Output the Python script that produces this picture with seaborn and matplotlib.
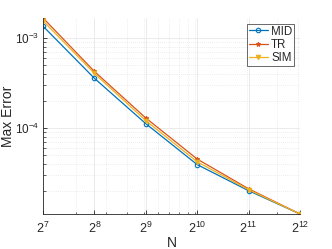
import matplotlib
matplotlib.use("Agg")
import matplotlib.pyplot as plt
from matplotlib.ticker import FixedLocator, LogLocator, NullFormatter
import seaborn as sns

# data
N = [128, 256, 512, 1024, 2048, 4096]
mid_err = [1.36e-3, 3.57e-4, 1.116e-4, 3.9e-5, 2.0e-5, 1.1e-5]
tr_err = [1.68e-3, 4.26e-4, 1.29e-4, 4.5e-5, 2.1e-5, 1.1e-5]
sim_err = [1.56e-3, 4.05e-4, 1.205e-4, 4.19e-5, 2.05e-5, 1.1e-5]
x_exps = [7, 8, 9, 10, 11, 12]

sns.set_style("white")
plt.rcParams['font.family'] = ['Liberation Sans', 'DejaVu Sans']
plt.rcParams['mathtext.fontset'] = 'custom'
plt.rcParams['mathtext.rm'] = 'Liberation Sans'
plt.rcParams['axes.unicode_minus'] = False

fig = plt.figure(figsize=(3.32, 2.49), dpi=100)
ax = fig.add_axes([0.1295, 0.1406, 0.7741, 0.7875])

series = [
    ("MID", mid_err, "#0072BD", "o", "none"),
    ("TR", tr_err, "#D95319", "*", "#D95319"),
    ("SIM", sim_err, "#EDB120", "v", "#EDB120"),
]
for name, vals, col, mk, fc in series:
    sns.lineplot(x=N, y=vals, ax=ax, color=col, marker=mk, markersize=3.2,
                 markerfacecolor=fc, markeredgecolor=col, markeredgewidth=0.8,
                 linewidth=0.9, label=name)

ax.set_xscale("log")
ax.set_yscale("log")
ax.set_xlim(N[0], N[-1])
ax.set_ylim(1.1e-5, 1.68e-3)

ax.xaxis.set_major_locator(FixedLocator([2 ** k for k in x_exps]))
ax.set_xticklabels([r"$\mathregular{2^{%d}}$" % k for k in x_exps])
ax.xaxis.set_minor_locator(LogLocator(base=10, subs=range(1, 10), numticks=20))
ax.xaxis.set_minor_formatter(NullFormatter())
y_major = [1e-4, 1e-3]
ax.yaxis.set_major_locator(FixedLocator(y_major))
ax.set_yticklabels([r"$\mathregular{10^{-4}}$", r"$\mathregular{10^{-3}}$"])
ax.yaxis.set_minor_locator(LogLocator(base=10, subs=range(2, 10), numticks=20))
ax.yaxis.set_minor_formatter(NullFormatter())

ax.grid(True, which="major", color="#e8e8e8", linewidth=0.6, linestyle="-")
ax.grid(True, which="minor", color="#dcdcdc", linewidth=0.5, linestyle=(0, (1, 2)))
ax.set_axisbelow(True)

for s in ["top", "right"]:
    ax.spines[s].set_visible(False)
for s in ["left", "bottom"]:
    ax.spines[s].set_color("#262626")
    ax.spines[s].set_linewidth(0.6)

ax.tick_params(which="both", direction="in", colors="#262626", labelsize=9,
               top=False, right=False, left=True, bottom=True)
ax.tick_params(which="major", length=3, width=0.6)
ax.tick_params(which="minor", length=1.8, width=0.5)
ax.tick_params(axis="x", which="major", pad=5)
ax.tick_params(axis="y", which="major", pad=2.5, labelsize=8.5)

ax.set_xlabel("N", fontsize=10, labelpad=0)
ax.set_ylabel("Max Error", fontsize=10)
ax.yaxis.set_label_coords(-0.11, 0.5)

leg = ax.legend(loc="upper right", bbox_to_anchor=(0.977, 0.97), fontsize=8.3,
                frameon=True, fancybox=False, handlelength=1.6, handletextpad=0.3,
                borderpad=0.15, labelspacing=0.1, borderaxespad=0)
leg.get_frame().set_edgecolor("#262626")
leg.get_frame().set_linewidth(0.6)

fig.savefig("out.png", dpi=100)
